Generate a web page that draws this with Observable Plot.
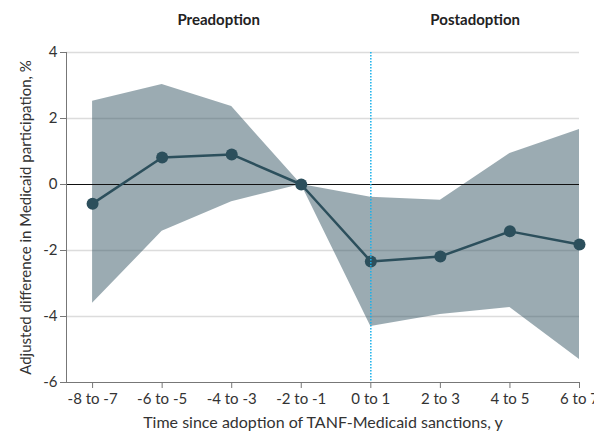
<!DOCTYPE html>
<html>
<head>
<meta charset="utf-8">
<script src="https://cdn.jsdelivr.net/npm/d3@7"></script>
<script src="https://cdn.jsdelivr.net/npm/@observablehq/plot@0.6"></script>
<style>
  html, body { margin: 0; padding: 0; background: #fff; overflow: hidden; }
  #chart svg { display: block; }
</style>
</head>
<body>
<div id="chart"></div>
<script>
// Data
const periods = ["-8 to -7", "-6 to -5", "-4 to -3", "-2 to -1", "0 to 1", "2 to 3", "4 to 5", "6 to 7"];
const estimate = [-0.58, 0.82, 0.91, 0, -2.33, -2.18, -1.42, -1.82];
const upper = [2.52, 3.03, 2.36, 0, -0.39, -0.48, 0.94, 1.67];
const lower = [-3.6, -1.42, -0.52, 0, -4.3, -3.94, -3.73, -5.3];
const yTicks = [-6, -4, -2, 0, 2, 4];
const gridTicks = [-4, -2, 2, 4];
const adoptionIndex = 4; // "0 to 1"
const phaseLabels = ["Preadoption", "Postadoption"];

const data = periods.map((p, i) => ({i, period: p, est: estimate[i], lo: lower[i], hi: upper[i]}));

const xDomain = [-0.375, periods.length - 1];
const yDomain = [-6, 4];
const phases = [
  {label: phaseLabels[0], x: (xDomain[0] + adoptionIndex) / 2},
  {label: phaseLabels[1], x: (adoptionIndex + xDomain[1]) / 2}
];

const font = "Lato, 'Open Sans', sans-serif";
const dark = "#2c4f5c";

const chart = Plot.plot({
  width: 594,
  height: 433,
  marginTop: 52,
  marginBottom: 51,
  marginLeft: 66,
  marginRight: 15,
  style: {fontFamily: font, fontSize: "15px", color: "#333", background: "#fff"},
  x: {domain: xDomain, axis: null},
  y: {domain: yDomain, axis: null},
  marks: [
    Plot.ruleY(gridTicks, {stroke: "#dcdcdc", strokeWidth: 1.6}),
    Plot.areaY(data, {x: "i", y1: "lo", y2: "hi", fill: "#2f4f5e", fillOpacity: 0.48}),
    Plot.ruleY([0], {stroke: "#111", strokeWidth: 1}),
    Plot.ruleX([xDomain[0]], {stroke: "#777", strokeWidth: 1}),
    Plot.ruleY([yDomain[0]], {stroke: "#777", strokeWidth: 1}),
    Plot.axisY({ticks: yTicks, tickSize: 6, tickPadding: 3, stroke: "#777", fill: "#333", fontSize: 15, tickFormat: d => d < 0 ? "-" + Math.abs(d) : String(d),
      label: "Adjusted difference in Medicaid participation, %", labelAnchor: "center", labelOffset: 46, labelArrow: "none"}),
    Plot.axisX({ticks: d3.range(periods.length), tickSize: 6, tickPadding: 5, stroke: "#777", fill: "#333", fontSize: 15, tickFormat: i => periods[i],
      label: null}),
    Plot.text([ "Time since adoption of TANF-Medicaid sanctions, y" ], {frameAnchor: "bottom", dy: 45, text: d => d, fontSize: 16, fill: "#333"}),
    Plot.line(data, {x: "i", y: "est", stroke: dark, strokeWidth: 2.5}),
    Plot.dot(data, {x: "i", y: "est", r: 6, fill: dark, stroke: "none"}),
    Plot.ruleX([adoptionIndex], {stroke: "#19b0ea", strokeWidth: 1.5, strokeDasharray: "1.5,1.5"}),
    Plot.text(phases, {x: "x", frameAnchor: "top", dy: -32, lineAnchor: "middle", text: "label", fontWeight: "bold", fontSize: 15, fill: "#222"})
  ]
});
document.getElementById("chart").appendChild(chart);
</script>
</body>
</html>
